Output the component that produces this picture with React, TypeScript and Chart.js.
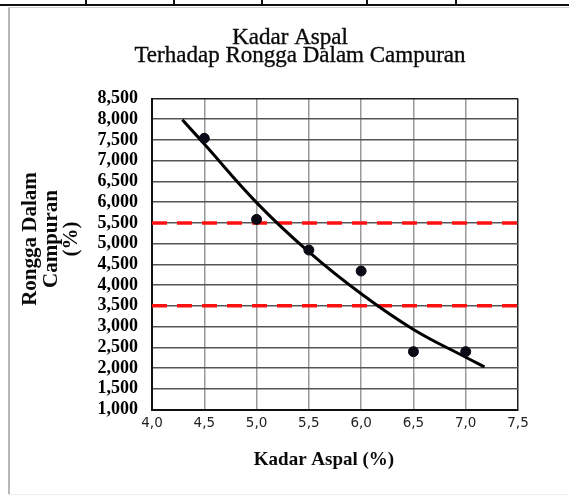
import React, { useEffect, useRef } from 'react';
import { Chart, registerables } from 'chart.js';

Chart.register(...registerables);

// ---- texts ----
const TITLE_LINES = ['Kadar Aspal', 'Terhadap Rongga Dalam Campuran'];
const Y_TITLE_LINES = ['Rongga Dalam', 'Campuran', '(%)'];
const X_TITLE = 'Kadar Aspal (%)';

// ---- data ----
const kadarAspal = [4.5, 5.0, 5.5, 6.0, 6.5, 7.0];
const rongga = [7540, 5585, 4845, 4340, 2395, 2395];

const trendX = [4.29, 4.5, 5.0, 5.5, 6.0, 6.5, 7.0, 7.18];
const trendY = [7990, 7400, 5990, 4800, 3790, 2930, 2260, 2030];

const batasX = [4.0, 7.5];
const batasAtas = [5500, 5500];
const batasBawah = [3500, 3500];

// ---- axis ticks ----
const X_MIN = 4.0;
const X_MAX = 7.5;
const X_STEP = 0.5;
const Y_MIN = 1000;
const Y_MAX = 8500;
const Y_STEP = 500;

const toXY = (xs: number[], ys: number[]) => xs.map((x, i) => ({ x, y: ys[i] }));

const textPlugin = {
  id: 'chartTexts',
  afterDraw(chart: any) {
    const ctx = chart.ctx as CanvasRenderingContext2D;
    ctx.save();
    ctx.fillStyle = '#0a0a0a';
    ctx.strokeStyle = '#0a0a0a';
    ctx.lineWidth = 0.35;
    ctx.textAlign = 'center';
    ctx.textBaseline = 'alphabetic';
    ctx.font = '23px "Liberation Serif", serif';
    ctx.fillText(TITLE_LINES[0], 290, 44);
    ctx.strokeText(TITLE_LINES[0], 290, 44);
    ctx.fillText(TITLE_LINES[1], 300, 62);
    ctx.strokeText(TITLE_LINES[1], 300, 62);
    ctx.font = 'bold 19px "Liberation Serif", serif';
    ctx.fillText(X_TITLE, 324, 465);
    ctx.translate(0, 239);
    ctx.rotate(-Math.PI / 2);
    ctx.font = 'bold 21px "Liberation Serif", serif';
    ctx.textBaseline = 'middle';
    Y_TITLE_LINES.forEach((t, i) => ctx.fillText(t, 0, 31 + i * 20.5));
    ctx.restore();
  },
};

export default function App() {
  const canvasRef = useRef<HTMLCanvasElement | null>(null);

  useEffect(() => {
    if (!canvasRef.current) return;
    const chart = new Chart(canvasRef.current, {
      type: 'scatter',
      data: {
        datasets: [
          {
            label: 'Rongga Dalam Campuran',
            data: toXY(kadarAspal, rongga),
            backgroundColor: '#0a0a16',
            borderColor: '#0a0a16',
            pointRadius: 5,
            pointHoverRadius: 5,
            showLine: false,
          },
          {
            label: 'Trend',
            data: toXY(trendX, trendY),
            borderColor: '#000',
            borderWidth: 3,
            pointRadius: 0,
            showLine: true,
            tension: 0.4,
          } as any,
          {
            label: 'Batas Atas',
            data: toXY(batasX, batasAtas),
            borderColor: '#ff1010',
            borderWidth: 3.5,
            borderDash: [15, 10],
            pointRadius: 0,
            showLine: true,
          },
          {
            label: 'Batas Bawah',
            data: toXY(batasX, batasBawah),
            borderColor: '#ff1010',
            borderWidth: 3.5,
            borderDash: [15, 10],
            pointRadius: 0,
            showLine: true,
          },
        ],
      },
      options: {
        responsive: false,
        animation: false,
        layout: { padding: { left: 0, right: 51, top: 98.5, bottom: 0 } },
        plugins: {
          legend: { display: false },
          tooltip: { enabled: false },
          title: { display: false },
        },
        scales: {
          x: {
            type: 'linear',
            min: X_MIN,
            max: X_MAX,
            afterFit: (scale: any) => {
              scale.height = 88.5;
            },
            ticks: {
              stepSize: X_STEP,
              autoSkip: false,
              padding: 6,
              color: '#222',
              font: { family: '"DejaVu Sans", sans-serif', size: 13.5 },
              callback: (v: any) => Number(v).toFixed(1).replace('.', ','),
            },
            grid: {
              drawTicks: false,
              lineWidth: 1.5,
              color: (c: any) => (c.tick && c.tick.value === X_MAX ? '#222' : '#9a9a9a'),
            },
            border: { color: '#111', width: 2 },
          },
          y: {
            type: 'linear',
            min: Y_MIN,
            max: Y_MAX,
            afterFit: (scale: any) => {
              scale.width = 152;
            },
            ticks: {
              stepSize: Y_STEP,
              autoSkip: false,
              padding: 14,
              color: '#000',
              font: { family: '"Liberation Serif", serif', size: 18, weight: 'bold' },
              callback: (v: any) => Number(v).toLocaleString('en-US'),
            },
            grid: {
              drawTicks: false,
              lineWidth: 1.5,
              color: (c: any) => (c.tick && c.tick.value === Y_MAX ? '#222' : '#555'),
            },
            border: { color: '#111', width: 2 },
          },
        },
      },
      plugins: [textPlugin],
    });
    return () => chart.destroy();
  }, []);

  const stubs = [85, 173, 261, 366, 455];

  return (
    <div
      style={{
        position: 'fixed',
        left: 0,
        top: 0,
        width: 569,
        height: 498,
        background: '#fff',
        overflow: 'hidden',
      }}
    >
      <div style={{ position: 'absolute', left: 0, top: 4, width: 569, height: 2, background: '#111' }} />
      {stubs.map((x) => (
        <div key={x} style={{ position: 'absolute', left: x, top: 0, width: 2, height: 5, background: '#111' }} />
      ))}
      <div style={{ position: 'absolute', left: 8, top: 7, width: 561, height: 1, background: '#cfcfcf' }} />
      <div style={{ position: 'absolute', left: 8, top: 8, width: 2, height: 487, background: '#b8b8b8' }} />
      <div style={{ position: 'absolute', left: 8, top: 494, width: 561, height: 1, background: '#eeeeee' }} />
      <canvas
        ref={canvasRef}
        width={569}
        height={498}
        style={{ position: 'absolute', left: 0, top: 0, width: 569, height: 498 }}
      />
    </div>
  );
}
